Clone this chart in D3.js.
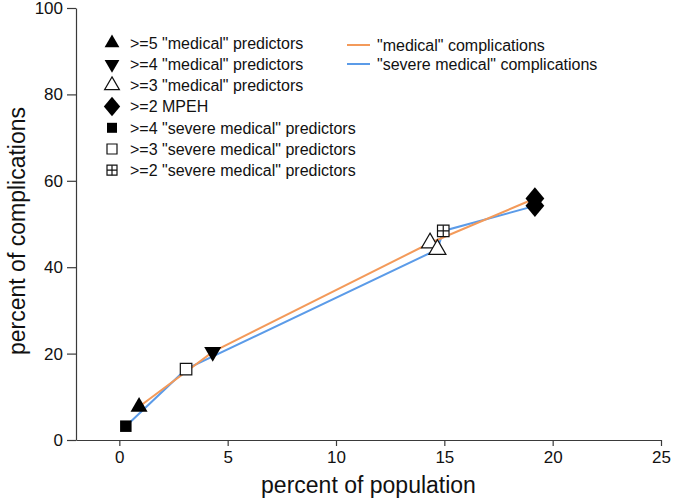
<!DOCTYPE html>
<html>
<head>
<meta charset="utf-8">
<script src="https://cdn.jsdelivr.net/npm/d3@7"></script>
<style>
  html, body { margin: 0; padding: 0; background: #fff; }
  svg { display: block; font-family: "Liberation Sans", Arial, sans-serif; }
</style>
</head>
<body>
<svg id="chart" width="675" height="503"></svg>
<script>
// ---- data ----
const xTicks = [0, 5, 10, 15, 20, 25];
const yTicks = [0, 20, 40, 60, 80, 100];

const medicalX = [0.91, 4.31, 14.34, 19.18];
const medicalY = [7.7, 20.4, 45.6, 55.9];
const medicalShapes = ["triUp", "triDown", "triOpen", "diamond"];

const severeX = [0.3, 3.08, 14.68, 14.95, 19.18];
const severeY = [3.2, 16.4, 44.1, 48.4, 54.2];
const severeShapes = ["square", "squareOpen", "triOpen", "grid", "diamond"];

const markerLegendLabels = [
  '>=5 "medical" predictors',
  '>=4 "medical" predictors',
  '>=3 "medical" predictors',
  '>=2 MPEH',
  '>=4 "severe medical" predictors',
  '>=3 "severe medical" predictors',
  '>=2 "severe medical" predictors'
];
const markerLegendShapes = ["triUp", "triDown", "triOpen", "diamond", "square", "squareOpen", "grid"];

const lineLegendLabels = ['"medical" complications', '"severe medical" complications'];
const lineColors = ["#F39A5A", "#5B9BE8"];

// ---- layout ----
const svg = d3.select("#chart");
const x = d3.scaleLinear().domain([-2, 25]).range([76, 661]);
const y = d3.scaleLinear().domain([0, 100]).range([440, 8]);
const axisColor = "#3a3a3a";

// axes
const gx = svg.append("g").attr("transform", `translate(0,${y(0)})`)
  .call(d3.axisBottom(x).tickValues(xTicks).tickSize(6).tickSizeOuter(0).tickPadding(5));
const gy = svg.append("g").attr("transform", `translate(${x(-2)},0)`)
  .call(d3.axisLeft(y).tickValues(yTicks).tickSize(9).tickSizeOuter(0).tickPadding(4));
[gx, gy].forEach(g => {
  g.select(".domain").attr("stroke", axisColor).attr("stroke-width", 1.2);
  g.selectAll(".tick line").attr("stroke", axisColor).attr("stroke-width", 1.2);
  g.selectAll(".tick text").attr("fill", "#111").style("font-size", "17px")
    .style("font-family", '"Liberation Sans", Arial, sans-serif');
});

// axis titles
svg.append("text").attr("x", (x(-2) + x(25)) / 2).attr("y", 493)
  .attr("text-anchor", "middle").attr("fill", "#111").style("font-size", "23px")
  .text("percent of population");
svg.append("text").attr("transform", `translate(25,231) rotate(-90)`)
  .attr("text-anchor", "middle").attr("fill", "#111").style("font-size", "23px")
  .text("percent of complications");

// lines
const line = d3.line().x(d => x(d[0])).y(d => y(d[1]));
const medPts = medicalX.map((v, i) => [v, medicalY[i]]);
const sevPts = severeX.map((v, i) => [v, severeY[i]]);
svg.append("path").datum(sevPts).attr("d", line).attr("fill", "none")
  .attr("stroke", lineColors[1]).attr("stroke-width", 2);
svg.append("path").datum(medPts).attr("d", line).attr("fill", "none")
  .attr("stroke", lineColors[0]).attr("stroke-width", 2);

// marker drawing
function drawMarker(g, shape, cx, cy, scale) {
  const s = scale || 1;
  const tri = d3.symbol().type(d3.symbolTriangle).size(95 * s * s)();
  const sq = d3.symbol().type(d3.symbolSquare).size(100 * s * s)();
  const dia = d3.symbol().type(d3.symbolDiamond).size(110 * s * s)();
  const m = g.append("g").attr("transform", `translate(${cx},${cy})`);
  if (shape === "triUp") {
    m.append("path").attr("d", tri).attr("fill", "#000");
  } else if (shape === "triDown") {
    m.append("path").attr("d", tri).attr("transform", "rotate(180)").attr("fill", "#000");
  } else if (shape === "triOpen") {
    m.append("path").attr("d", tri).attr("fill", "#fff").attr("stroke", "#111").attr("stroke-width", 1.2);
  } else if (shape === "diamond") {
    m.append("path").attr("d", dia).attr("fill", "#000").attr("transform", "scale(1.45,1)");
  } else if (shape === "square") {
    m.append("path").attr("d", sq).attr("fill", "#000");
  } else if (shape === "squareOpen") {
    m.append("path").attr("d", sq).attr("fill", "#fff").attr("stroke", "#111").attr("stroke-width", 1.2);
  } else if (shape === "grid") {
    const h = Math.sqrt(100 * s * s) / 2;
    m.append("path").attr("d", sq).attr("fill", "#fff").attr("stroke", "#111").attr("stroke-width", 1.2);
    m.append("path").attr("d", `M${-h},0H${h}M0,${-h}V${h}`).attr("stroke", "#111").attr("stroke-width", 1.2);
  }
}

const mk = svg.append("g");
medPts.forEach((p, i) => drawMarker(mk, medicalShapes[i], x(p[0]), y(p[1]), 1.15));
sevPts.forEach((p, i) => drawMarker(mk, severeShapes[i], x(p[0]), y(p[1]), 1.15));

// marker legend
const lg = svg.append("g");
markerLegendLabels.forEach((lab, i) => {
  const ly = 43 + i * 21.2;
  drawMarker(lg, markerLegendShapes[i], 112, ly, 1.0);
  lg.append("text").attr("x", 130).attr("y", ly).attr("dy", "0.36em")
    .attr("fill", "#111").style("font-size", "16px").text(lab);
});

// line legend
const ll = svg.append("g");
lineLegendLabels.forEach((lab, i) => {
  const ly = 45 + i * 19;
  ll.append("line").attr("x1", 347).attr("x2", 370).attr("y1", ly).attr("y2", ly)
    .attr("stroke", lineColors[i]).attr("stroke-width", 2);
  ll.append("text").attr("x", 377).attr("y", ly).attr("dy", "0.36em")
    .attr("fill", "#111").style("font-size", "16px").text(lab);
});
</script>
</body>
</html>
